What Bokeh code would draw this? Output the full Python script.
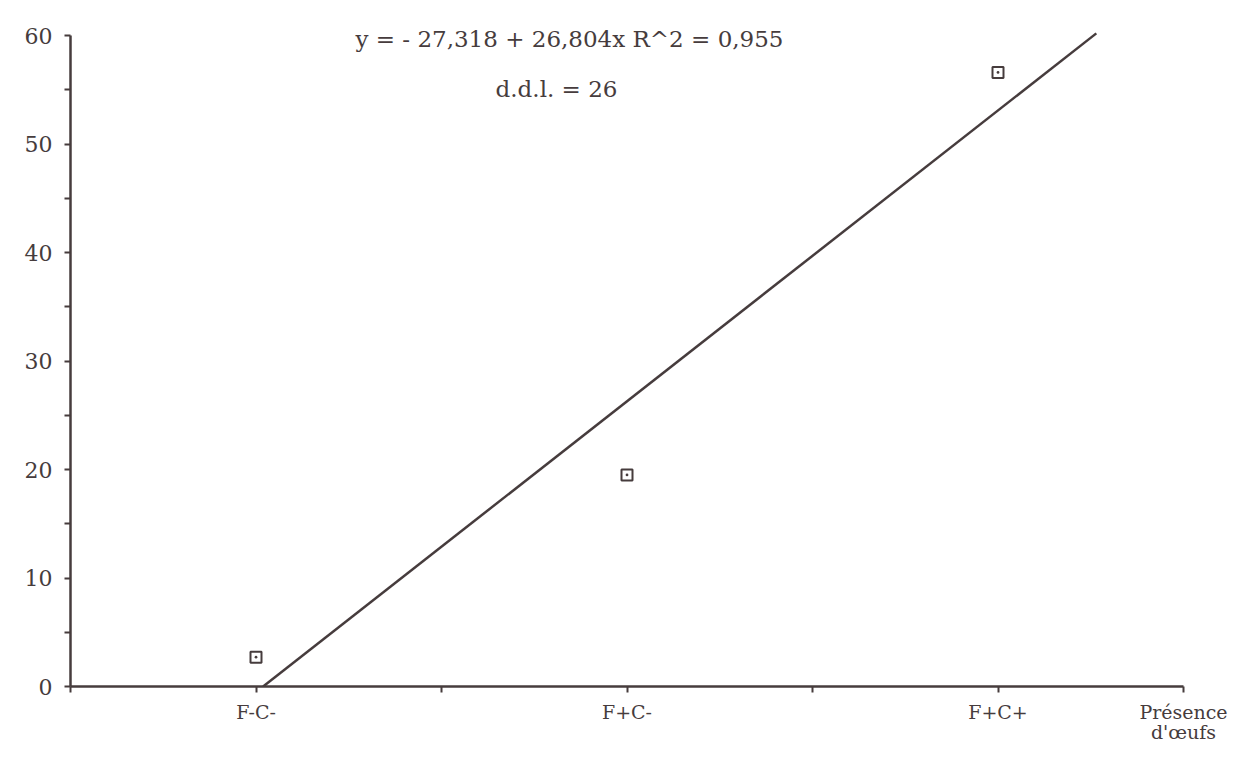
from bokeh.plotting import figure
from bokeh.models import FixedTicker, Label, Range1d, ColumnDataSource
from bokeh.embed import file_html
from bokeh.resources import INLINE

# ---- data ----
categories = ["F-C-", "F+C-", "F+C+"]
cat_x = [1, 2, 3]
values = [2.7, 19.5, 56.6]
intercept = -27.318
slope = 26.804
line_x = [27.318 / 26.804, 3.265]
y_ticks = [0, 10, 20, 30, 40, 50, 60]
y_minor = [5, 15, 25, 35, 45, 55]
x_minor = [0.5, 1.5, 2.5]
x_title_pos = 3.5
x_title = "Présence\nd'œufs"
equation_text = "y =  - 27,318 + 26,804x   R^2 = 0,955"
ddl_text = "d.d.l. = 26"

INK = "#463c3d"
FONT = "DejaVu Serif"

p = figure(width=1240, height=746, output_backend="svg", toolbar_location=None,
           x_range=Range1d(0.5, 3.5), y_range=Range1d(0, 62.03),
           min_border_left=70, min_border_right=57, min_border_top=13, min_border_bottom=60)
p.background_fill_color = "white"
p.border_fill_color = "white"
p.outline_line_color = None
p.xgrid.grid_line_color = None
p.ygrid.grid_line_color = None

# axes
p.xaxis.ticker = FixedTicker(ticks=cat_x + [x_title_pos], minor_ticks=x_minor)
overrides = {x: c for x, c in zip(cat_x, categories)}
overrides[x_title_pos] = x_title
p.xaxis.major_label_overrides = overrides
p.yaxis.ticker = FixedTicker(ticks=y_ticks, minor_ticks=y_minor)
p.yaxis.bounds = (0, 60)
for ax in (p.xaxis[0], p.yaxis[0]):
    ax.axis_line_color = INK
    ax.axis_line_width = 2.5
    ax.major_tick_line_color = INK
    ax.minor_tick_line_color = INK
    ax.major_tick_line_width = 2
    ax.minor_tick_line_width = 2
    ax.major_tick_in = 0
    ax.minor_tick_in = 0
    ax.major_tick_out = 6
    ax.minor_tick_out = 6
    ax.major_label_text_color = INK
    ax.major_label_text_font = FONT
    ax.major_label_standoff = 12
p.xaxis.major_label_standoff = 8
p.xaxis.major_label_text_line_height = 0.95
p.xaxis.major_label_text_font_size = "19px"
p.yaxis.major_label_text_font_size = "22px"

# regression line
line_y = [intercept + slope * x for x in line_x]
p.line(line_x, line_y, line_color=INK, line_width=2.5)

# points
src = ColumnDataSource(dict(x=cat_x, y=values))
p.scatter("x", "y", source=src, marker="square_dot", size=11,
          line_color=INK, line_width=2, fill_color="white")

# annotations
p.add_layout(Label(x=1.268, y=59.7, text=equation_text, text_font=FONT,
                   text_font_size="23px", text_color=INK, text_baseline="middle",
                   text_align="left"))
p.add_layout(Label(x=1.81, y=55.1, text=ddl_text, text_font=FONT,
                   text_font_size="23px", text_color=INK, text_baseline="middle",
                   text_align="center"))

open("out.html", "w").write(file_html(p, INLINE))
